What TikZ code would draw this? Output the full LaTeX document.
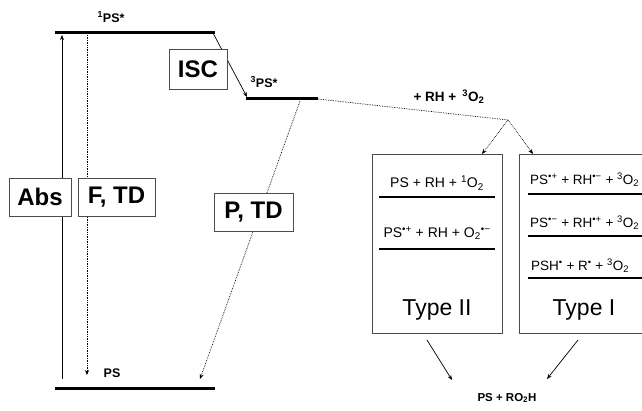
\documentclass[tikz,border=0pt]{standalone}
\usepackage{fontspec}
\setmainfont{Liberation Sans}
\usetikzlibrary{arrows.meta}
\begin{document}
\begin{tikzpicture}[x=1pt,y=-1pt,
  level/.style={line width=3pt},
  lbox/.style={draw=black!70, line width=0.8pt, fill=white, inner sep=0pt, minimum height=38pt, font=\fontsize{24}{28}\selectfont\bfseries},
  tbox/.style={draw=black!70, line width=0.8pt, inner sep=0pt, minimum height=179pt},
  arr/.style={line width=0.7pt, -{Stealth[length=5pt,width=4pt]}},
  darr/.style={arr, densely dotted},
  dline/.style={line width=0.7pt, densely dotted},
  small/.style={font=\fontsize{12.5}{15}\selectfont\bfseries},
  rxn/.style={font=\fontsize{14}{17}\selectfont, inner sep=0pt},
  rxnl/.style={font=\fontsize{13.5}{16}\selectfont, inner sep=0pt, anchor=west},
  typelab/.style={font=\fontsize{23}{26}\selectfont},
  uline/.style={line width=2.8pt}]
\clip (0,0) rectangle (642,411);
\fill[white] (0,0) rectangle (642,411);
% energy levels
\coordinate (s1a) at (55,33); \coordinate (s1b) at (215,33);
\coordinate (s3a) at (246,99); \coordinate (s3b) at (318,99);
\coordinate (s0a) at (55,388); \coordinate (s0b) at (215,388);
\draw[level] (s1a) -- (s1b);
\draw[level] (s3a) -- (s3b);
\draw[level] (s0a) -- (s0b);
\node[small] (s1lab) at (111,17) {\textsuperscript{1}PS*};
\node[small] (s3lab) at (264,82) {\textsuperscript{3}PS*};
\node[small] (s0lab) at (112,373) {PS};
% absorption and fluorescence
\coordinate (absfrom) at (62,379); \coordinate (absto) at (62,35);
\draw[arr] (absfrom) -- (absto);
\coordinate (ffrom) at (87,35); \coordinate (fto) at (87,375);
\draw[darr] (ffrom) -- (fto);
\node[lbox, minimum width=62pt] (abs) at (40,197) {Abs};
\node[lbox, minimum width=77pt] (ftd) at (116.5,197) {F, TD};
% ISC
\coordinate (iscfrom) at (213,33); \coordinate (iscto) at (247,97);
\draw[arr] (iscfrom) -- (iscto);
\node[lbox, minimum width=58pt, minimum height=40pt] (isc) at (198,69) {ISC};
% phosphorescence
\coordinate (pfrom) at (300,101); \coordinate (pto) at (200,379);
\draw[darr] (pfrom) -- (pto);
\node[lbox, minimum width=79pt] (ptd) at (253.5,212) {P, TD};
% reaction with substrate
\coordinate (pk) at (508,120);
\draw[dline] (s3b) -- (pk);
\node[font=\fontsize{13.5}{15}\selectfont\bfseries] (rh) at (449,97) {+ RH +\, \textsuperscript{3}O\textsubscript{2}};
\node[tbox, minimum width=130pt] (typeII) at (437,243.5) {};
\node[tbox, minimum width=150pt] (typeI) at (594,243.5) {};
\coordinate (in2) at (482,154); \coordinate (in1) at (533,154);
\draw[darr] (pk) -- (in2);
\draw[darr] (pk) -- (in1);
% Type II contents
\node[rxn] (r21) at (437,183) {PS + RH + \textsuperscript{1}O\textsubscript{2}};
\draw[uline] (379,197) -- (495,197);
\node[rxn] (r22) at (437,233) {PS\textsuperscript{•+} + RH + O\textsubscript{2}\textsuperscript{•−}};
\draw[uline] (379,249) -- (495,249);
\node[typelab] (t2lab) at (437,310) {Type II};
% Type I contents
\node[rxnl] (r11) at (530,180) {PS\textsuperscript{•+} + RH\textsuperscript{•−} + \textsuperscript{3}O\textsubscript{2}};
\draw[uline] (528,194) -- (650,194);
\node[rxnl] (r12) at (530,223) {PS\textsuperscript{•−} + RH\textsuperscript{•+} + \textsuperscript{3}O\textsubscript{2}};
\draw[uline] (528,236) -- (650,236);
\node[rxnl] (r13) at (531,266) {PSH\textsuperscript{•} + R\textsuperscript{•} + \textsuperscript{3}O\textsubscript{2}};
\draw[uline] (528,278) -- (650,278);
\node[typelab] (t1lab) at (584,310) {Type I};
% products
\coordinate (o2) at (427,340); \coordinate (e2) at (452,380);
\coordinate (o1) at (578,340); \coordinate (e1) at (547,379);
\draw[arr] (o2) -- (e2);
\draw[arr] (o1) -- (e1);
\node[font=\fontsize{11.5}{14}\selectfont\bfseries] (prod) at (507,398) {PS + RO\textsubscript{2}H};
\end{tikzpicture}
\end{document}
